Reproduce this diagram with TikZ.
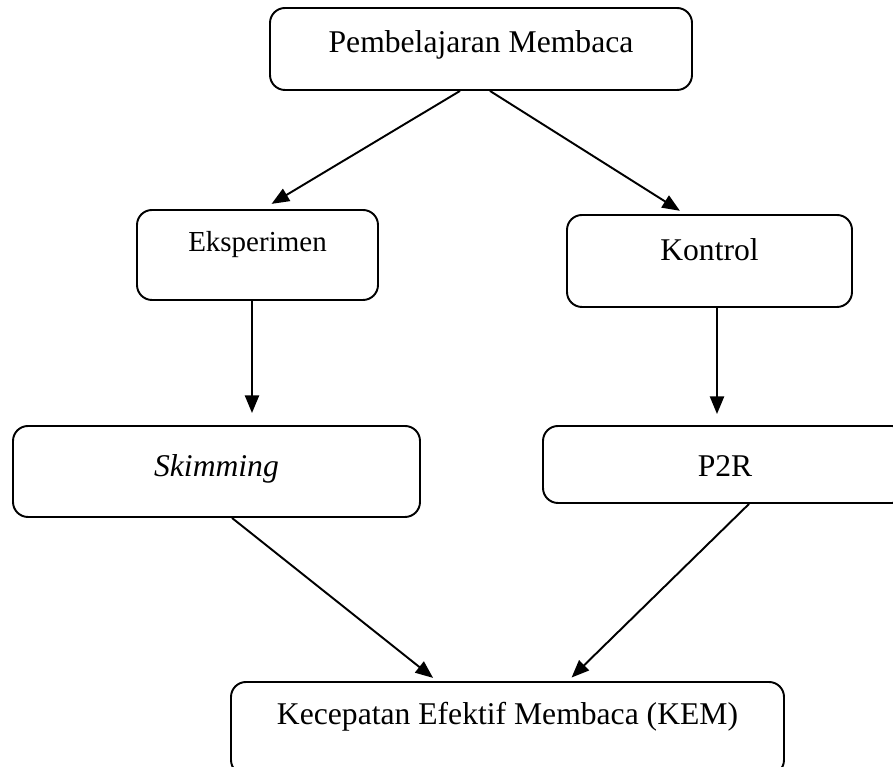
\documentclass[tikz,border=0pt]{standalone}
\usepackage{fontspec}
\setmainfont{Liberation Serif}
\usetikzlibrary{arrows.meta}

\begin{document}
\begin{tikzpicture}[
    kotak/.style={draw, rounded corners=0.3cm, line width=1.1pt, inner sep=0pt, font=\fontsize{18pt}{21pt}\selectfont},
    panah/.style={-{Triangle[length=10pt, width=8pt]}, line width=1.1pt}
  ]
      \useasboundingbox (0,0) rectangle (17.86,15.34);
      \clip (0,0) rectangle (17.86,15.34);

      \node[kotak, minimum width=8.44cm, text height=0.9cm, text depth=0.74cm] (atas) at (9.62, 14.36) {Pembelajaran Membaca};
      \node[kotak, minimum width=4.82cm, text height=0.84cm, text depth=0.96cm, font=\fontsize{16.5pt}{20pt}\selectfont] (eks) at (5.15, 10.24) {Eksperimen};
      \node[kotak, minimum width=5.7cm, text height=0.92cm, text depth=0.92cm] (kon) at (14.19, 10.12) {Kontrol};
      \node[kotak, minimum width=8.14cm, text height=1.02cm, text depth=0.8cm] (skim) at (4.33, 5.91) {\textit{Skimming}};
      \node[kotak, minimum width=7.28cm, text height=1.02cm, text depth=0.52cm] (ppr) at (14.5, 6.05) {P2R};
      \node[kotak, minimum width=11.06cm, text height=0.86cm, text depth=1.0cm] (kem) at (10.15, 0.77) {Kecepatan Efektif Membaca (KEM)};

      \draw[panah, shorten >=0.2cm] ([xshift=-0.42cm]atas.south) -- ([xshift=0.11cm]eks.north);
      \draw[panah, shorten >=0.12cm] ([xshift=0.18cm]atas.south) -- ([xshift=-0.49cm]kon.north);
      \draw[panah, shorten >=0.24cm] ([xshift=-0.11cm]eks.south) -- ([xshift=-0.11cm]eks.south |- skim.north);
      \draw[panah, shorten >=0.22cm] ([xshift=0.15cm]kon.south) -- ([xshift=0.15cm]kon.south |- ppr.north);
      \draw[panah, shorten >=0.1cm] ([xshift=0.31cm]skim.south) -- ([xshift=-1.41cm]kem.north);
      \draw[panah, shorten >=0.1cm] ([xshift=0.48cm]ppr.south) -- ([xshift=1.21cm]kem.north);
    \end{tikzpicture}
\end{document}
